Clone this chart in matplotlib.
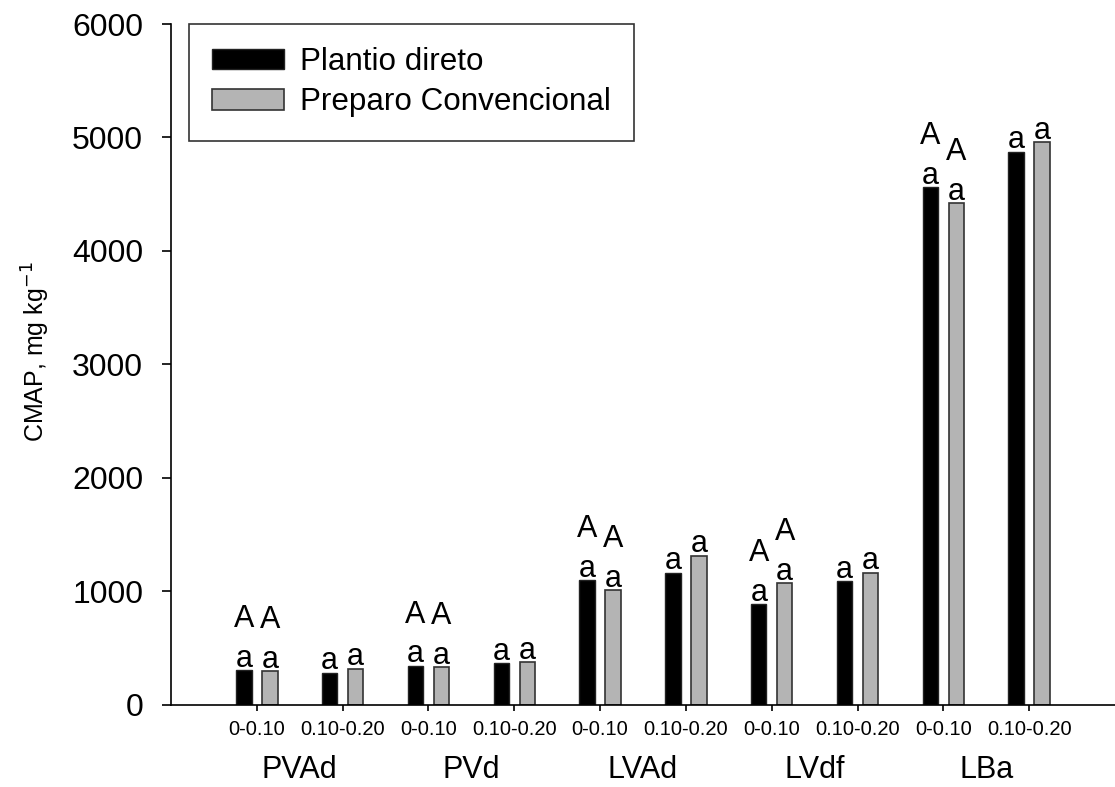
import matplotlib
matplotlib.use("Agg")
import matplotlib.pyplot as plt
import numpy as np

plt.rcParams['font.family'] = ['Liberation Sans', 'DejaVu Sans']

soils = ["PVAd", "PVd", "LVAd", "LVdf", "LBa"]
depths = ["0-0.10", "0.10-0.20"]
plantio = [305, 281, 343, 367, 1097, 1162, 886, 1088, 4560, 4875]
preparo = [293, 316, 329, 376, 1008, 1313, 1067, 1162, 4421, 4958]
letters_lower_pd = ["a"] * 10
letters_lower_pc = ["a"] * 10
letters_upper_pd = ["A", "", "A", "", "A", "", "A", "", "A", ""]
letters_upper_pc = ["A", "", "A", "", "A", "", "A", "", "A", ""]
tick_labels = depths * len(soils)

fig = plt.figure(figsize=(11.15, 7.87), dpi=100)
ax = fig.add_axes([171/1115, 1 - 704.5/787, 1 - 171/1115, (704.5 - 24)/787])

x = np.arange(1, len(plantio) + 1)
off = 0.151
w = 0.18
ax.bar(x - off, plantio, w, color='black', edgecolor='#222222', linewidth=1, label='Plantio direto')
ax.bar(x + off, preparo, w, color='#b4b4b4', edgecolor='#333333', linewidth=1.2, label='Preparo Convencional')

for xs, vals, lows, ups in ((x - off, plantio, letters_lower_pd, letters_upper_pd),
                            (x + off, preparo, letters_lower_pc, letters_upper_pc)):
    for xi, v, lo, up in zip(xs, vals, lows, ups):
        ax.annotate(lo, (xi, v), xytext=(0, 2.4), textcoords='offset points',
                    ha='center', va='baseline', fontsize=22)
        if up:
            ax.annotate(up, (xi, v), xytext=(0, 31), textcoords='offset points',
                        ha='center', va='baseline', fontsize=22)

ax.set_xlim(0, 11)
ax.set_ylim(0, 6000)
ax.set_yticks(np.arange(0, 6001, 1000))
ax.tick_params(axis='y', labelsize=23, length=6.5, width=1.2, direction='out', pad=13.5)
ax.set_xticks(x)
ax.set_xticklabels(tick_labels, fontsize=14.5)
ax.tick_params(axis='x', length=4.5, width=1.2, direction='out', pad=7)
for s in ['top', 'right']:
    ax.spines[s].set_visible(False)
for s in ['left', 'bottom']:
    ax.spines[s].set_linewidth(1.2)

for i, s in enumerate(soils):
    cx = 2 * i + 1.5
    ax.text(cx, -0.096, s, transform=ax.get_xaxis_transform(), ha='center', va='center', fontsize=22)

ax.set_ylabel('CMAP, mg kg$^{-1}$', fontsize=18)
ax.yaxis.set_label_coords(-0.126, 0.518)

leg = ax.legend(loc='upper left', bbox_to_anchor=(0.019, 1.0), borderaxespad=0, fontsize=22.6,
                frameon=True, fancybox=False, edgecolor='black', handlelength=2.3, handleheight=0.63,
                handletextpad=0.5, labelspacing=0.32, borderpad=0.74)
leg.get_frame().set_linewidth(1.2)

fig.savefig('out.png', dpi=100)
